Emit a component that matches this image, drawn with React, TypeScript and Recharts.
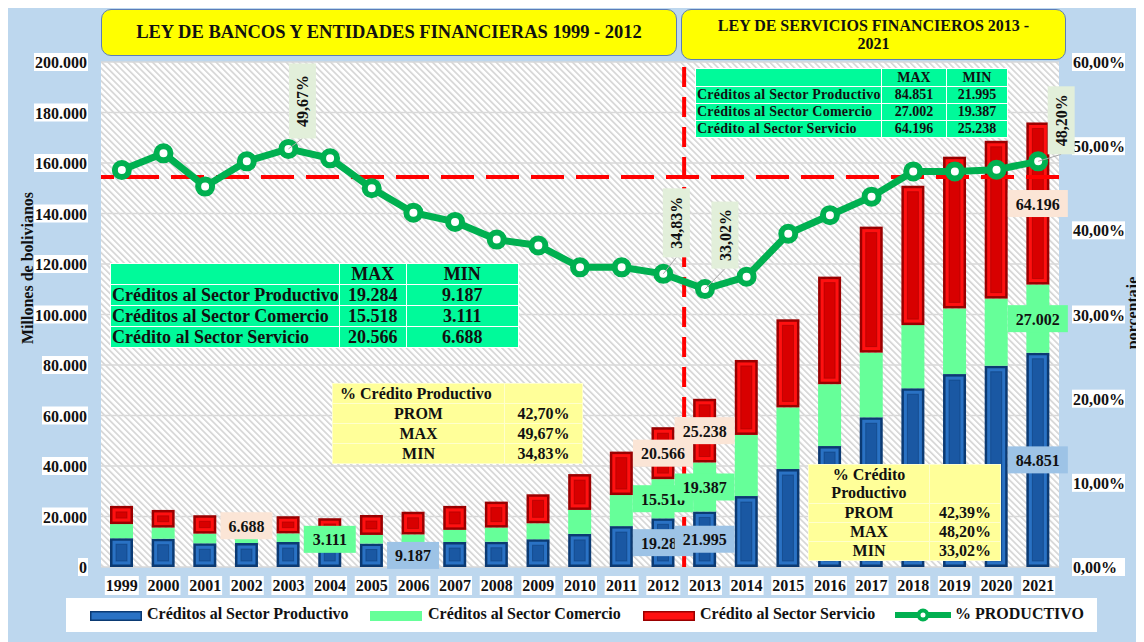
import React from 'react';
import {
  ComposedChart,
  Bar,
  Line,
  XAxis,
  YAxis,
  CartesianGrid,
  ReferenceLine,
  LabelList,
} from 'recharts';

// millones de bolivianos
const years = [
  '1999', '2000', '2001', '2002', '2003', '2004', '2005', '2006', '2007', '2008', '2009', '2010',
  '2011', '2012', '2013', '2014', '2015', '2016', '2017', '2018', '2019', '2020', '2021',
];
const productivo = [
  11400, 11200, 9400, 9500, 9900, 9400, 9300, 9187, 9900, 10000, 11000, 13100,
  16200, 19284, 21995, 28100, 38800, 47900, 59300, 70800, 76400, 79700, 84851,
];
const comercio = [
  5600, 4400, 3800, 3500, 3400, 3111, 3400, 3700, 4800, 5600, 6300, 9500,
  12300, 15518, 19387, 24200, 24400, 24500, 25600, 25000, 26000, 26600, 27002,
];
const servicio = [
  7200, 7000, 7300, 6688, 6800, 6800, 7900, 9000, 9500, 10300, 11500, 14200,
  17200, 20566, 25238, 29700, 34900, 42600, 49900, 55200, 60100, 62500, 64196,
];
// % productivo
const pctProductivo = [
  47.17, 49.15, 45.2, 48.2, 49.67, 48.55, 45.0, 42.1, 41.0, 38.9, 38.2, 35.6,
  35.6, 34.83, 33.02, 34.5, 39.6, 41.8, 44.0, 47.0, 47.0, 47.2, 48.2,
];
const pctReferencia = 46.33;

const leftTicks = [0, 20000, 40000, 60000, 80000, 100000, 120000, 140000, 160000, 180000, 200000];
const rightTicks = [0, 10, 20, 30, 40, 50, 60];

// years that carry a data label
const labeledProductivo = ['2006', '2012', '2013', '2021'];
const labeledComercio = ['2004', '2012', '2013', '2021'];
const labeledServicio = ['2002', '2012', '2013', '2021'];
const labeledPct = ['2003', '2012', '2013', '2021'];

// tables
const sectores = ['Créditos al Sector Productivo', 'Créditos al Sector Comercio', 'Crédito al Sector Servicio'];
const maxLey1 = ['19.284', '15.518', '20.566'];
const minLey1 = ['9.187', '3.111', '6.688'];
const maxLey2 = ['84.851', '27.002', '64.196'];
const minLey2 = ['21.995', '19.387', '25.238'];
const statNames = ['PROM', 'MAX', 'MIN'];
const statsLey1 = ['42,70%', '49,67%', '34,83%'];
const statsLey2 = ['42,39%', '48,20%', '33,02%'];

const data = years.map((year, i) => ({
  year,
  productivo: productivo[i],
  comercio: comercio[i],
  servicio: servicio[i],
  pct: pctProductivo[i],
}));

const FONT = "'Liberation Serif', 'DejaVu Serif', serif";
const BG = '#BDD7EE';
const GREEN_LINE = '#00B050';
const MINT = '#00FA9A';
const PALE_YELLOW = '#FFFF99';

const fmtMiles = (v: number) => Math.round(v).toString().replace(/\B(?=(\d{3})+(?!\d))/g, '.');
const fmtPct = (v: number) => `${v.toFixed(2).replace('.', ',')}%`;

// offsets of the rotated % labels from their point (dx, dy of box centre, box height)
const pctLabelPos: Record<string, [number, number, number]> = {
  '2003': [14, -48, 75],
  '2012': [13, -51, 69],
  '2013': [20, -54, 67],
  '2021': [23, -41, 68],
};

const BevelBar = (props: any) => {
  const { x, y, width, height, edge, main, inner } = props;
  if (!height || height <= 0) return null;
  const b = Math.min(2.5, height / 4);
  const b2 = Math.min(6, height / 3);
  return (
    <g>
      <rect x={x} y={y} width={width} height={height} fill={edge} />
      <rect x={x + b} y={y + b} width={width - 2 * b} height={height - 2 * b} fill={main} />
      {height > 14 && (
        <rect
          x={x + b2}
          y={y + b2}
          width={width - 2 * b2}
          height={height - 2 * b2}
          fill={inner}
          stroke={edge}
          strokeOpacity={0.5}
          strokeWidth={1}
        />
      )}
    </g>
  );
};

const makeBarLabel = (keys: string[], values: number[], bg: string) => (p: any) => {
  const idx = p.index;
  if (idx == null || !keys.includes(years[idx])) return null;
  const vb = p.viewBox && p.viewBox.width != null ? p.viewBox : p;
  const cx = vb.x + vb.width / 2;
  const cy = vb.y + vb.height / 2;
  const txt = fmtMiles(values[idx]);
  const w = txt.replace('.', '').length * 8 + 4 + 16;
  return (
    <g>
      <rect x={cx - w / 2} y={cy - 13.5} width={w} height={27} fill={bg} />
      <text x={cx} y={cy + 6} textAnchor="middle" fontFamily={FONT} fontWeight="bold" fontSize={16} fill="#111">
        {txt}
      </text>
    </g>
  );
};

const PctLabel = (p: any) => {
  const idx = p.index;
  if (idx == null || !labeledPct.includes(years[idx])) return null;
  const vb = p.viewBox && p.viewBox.x != null ? p.viewBox : p;
  const px = vb.x;
  const py = vb.y;
  const [dx, dy, h] = pctLabelPos[years[idx]];
  const cx = px + dx;
  const cy = py + dy;
  return (
    <g>
      <line x1={px} y1={py} x2={cx} y2={cy + h / 2} stroke="#A6A6A6" strokeWidth={1} />
      <rect x={cx - 13.5} y={cy - h / 2} width={27} height={h} fill="#E2EFDA" />
      <text
        x={cx}
        y={cy}
        transform={`rotate(-90 ${cx} ${cy})`}
        textAnchor="middle"
        dy={6}
        fontFamily={FONT}
        fontWeight="bold"
        fontSize={16}
        fill="#111"
      >
        {fmtPct(pctProductivo[idx])}
      </text>
    </g>
  );
};

const LeftTick = (p: any) => {
  const { x, y, payload } = p;
  const txt = fmtMiles(payload.value);
  const w = txt.replace('.', '').length * 8 + (txt.includes('.') ? 4 : 0) + 2;
  return (
    <g>
      <rect x={x - w} y={y - 9} width={w} height={18} fill="#fff" />
      <text x={x - 1} y={y + 6} textAnchor="end" fontFamily={FONT} fontWeight="bold" fontSize={16} fill="#111">
        {txt}
      </text>
    </g>
  );
};

const RightTick = (p: any) => {
  const { x, y, payload } = p;
  const txt = fmtPct(payload.value);
  return (
    <g>
      <rect x={x} y={y - 9} width={53} height={18} fill="#fff" />
      <text x={x + 1} y={y + 6} textAnchor="start" fontFamily={FONT} fontWeight="bold" fontSize={16} fill="#111">
        {txt}
      </text>
    </g>
  );
};

const YearTick = (p: any) => {
  const { x, y, payload } = p;
  return (
    <g>
      <rect x={x - 17} y={y + 9} width={34} height={19} fill="#fff" />
      <text x={x} y={y + 24} textAnchor="middle" fontFamily={FONT} fontWeight="bold" fontSize={16} fill="#111">
        {payload.value}
      </text>
    </g>
  );
};

const cell = (extra: React.CSSProperties = {}): React.CSSProperties => ({
  padding: 0,
  border: '1px solid #ffffff',
  whiteSpace: 'nowrap',
  overflow: 'hidden',
  ...extra,
});

function SectorTable({ left, top, cols, rows, fontSize, spacing, maxs, mins }: any) {
  return (
    <table
      style={{
        position: 'absolute',
        left,
        top,
        borderCollapse: 'collapse',
        tableLayout: 'fixed',
        background: MINT,
        fontFamily: FONT,
        fontWeight: 'bold',
        fontSize,
        color: '#111',
        lineHeight: 1,
      }}
    >
      <colgroup>
        {cols.map((c: number, i: number) => (
          <col key={i} style={{ width: c }} />
        ))}
      </colgroup>
      <tbody>
        <tr style={{ height: rows[0] }}>
          <td style={cell()} />
          <td style={cell({ textAlign: 'center' })}>MAX</td>
          <td style={cell({ textAlign: 'center' })}>MIN</td>
        </tr>
        {sectores.map((s, i) => (
          <tr key={s} style={{ height: rows[i + 1] }}>
            <td style={cell({ letterSpacing: spacing, paddingLeft: 1 })}>{s}</td>
            <td style={cell({ textAlign: 'center' })}>{maxs[i]}</td>
            <td style={cell({ textAlign: 'center' })}>{mins[i]}</td>
          </tr>
        ))}
      </tbody>
    </table>
  );
}

function StatTable({ left, top, cols, rows, header, headerAlign, values }: any) {
  return (
    <table
      style={{
        position: 'absolute',
        left,
        top,
        borderCollapse: 'collapse',
        tableLayout: 'fixed',
        background: PALE_YELLOW,
        fontFamily: FONT,
        fontWeight: 'bold',
        fontSize: 16,
        color: '#111',
        lineHeight: 1.1,
      }}
    >
      <colgroup>
        {cols.map((c: number, i: number) => (
          <col key={i} style={{ width: c }} />
        ))}
      </colgroup>
      <tbody>
        <tr style={{ height: rows[0] }}>
          <td
            style={cell({
              border: '1px solid #FFFFCC',
              textAlign: headerAlign,
              paddingLeft: headerAlign === 'left' ? 7 : 0,
              whiteSpace: 'normal',
            })}
          >
            {header}
          </td>
          <td style={cell({ border: '1px solid #FFFFCC' })} />
        </tr>
        {statNames.map((n, i) => (
          <tr key={n} style={{ height: rows[i + 1] }}>
            <td style={cell({ border: '1px solid #FFFFCC', textAlign: 'center' })}>{n}</td>
            <td style={cell({ border: '1px solid #FFFFCC', textAlign: 'center' })}>{values[i]}</td>
          </tr>
        ))}
      </tbody>
    </table>
  );
}

const titleBox: React.CSSProperties = {
  position: 'absolute',
  background: '#FFFF00',
  border: '1px solid #5B7DB8',
  borderRadius: 10,
  boxSizing: 'border-box',
  fontFamily: FONT,
  fontWeight: 'bold',
  color: '#111',
  textAlign: 'center',
  display: 'flex',
  alignItems: 'center',
  justifyContent: 'center',
};

const legendText: React.CSSProperties = {
  position: 'absolute',
  top: 7,
  fontFamily: FONT,
  fontWeight: 'bold',
  fontSize: 16,
  color: '#111',
  whiteSpace: 'nowrap',
};

export default function App() {
  return (
    <div style={{ position: 'relative', width: 1136, height: 634, background: BG, overflow: 'hidden' }}>
      <ComposedChart width={1136} height={634} data={data} margin={{ top: 54, right: 0, bottom: 0, left: 0 }}>
        <defs>
          <pattern id="hatch" patternUnits="userSpaceOnUse" width={4.5} height={4.5} patternTransform="rotate(-45)">
            <rect x={0} y={0} width={4.5} height={4.5} fill="#ffffff" />
            <rect x={0} y={0} width={1.6} height={4.5} fill="#D4D4D4" />
          </pattern>
        </defs>
        <CartesianGrid
          yAxisId="left"
          vertical={false}
          stroke="#D9D9D9"
          strokeWidth={1.5}
          fill="url(#hatch)"
          fillOpacity={1}
        />
        <XAxis
          dataKey="year"
          height={75}
          tickLine={false}
          axisLine={false}
          tickSize={0}
          tickMargin={0}
          interval={0}
          tick={<YearTick />}
        />
        <YAxis
          yAxisId="left"
          width={93}
          domain={[0, 200000]}
          ticks={leftTicks}
          tickLine={false}
          axisLine={false}
          tickSize={0}
          tickMargin={13}
          tick={<LeftTick />}
        />
        <YAxis
          yAxisId="right"
          orientation="right"
          width={85}
          domain={[0, 60]}
          ticks={rightTicks}
          tickLine={false}
          axisLine={false}
          tickSize={0}
          tickMargin={13}
          tick={<RightTick />}
        />
        <Bar
          yAxisId="left"
          dataKey="productivo"
          stackId="a"
          barSize={23}
          fill="#1F63B3"
          isAnimationActive={false}
          shape={(p: any) => <BevelBar {...p} edge="#0B3A73" main="#2A72C4" inner="#1A58A3" />}
        />
        <Bar
          yAxisId="left"
          dataKey="comercio"
          stackId="a"
          barSize={23}
          fill="#66FF99"
          isAnimationActive={false}
        />
        <Bar
          yAxisId="left"
          dataKey="servicio"
          stackId="a"
          barSize={23}
          fill="#FF0000"
          isAnimationActive={false}
          shape={(p: any) => <BevelBar {...p} edge="#9A0000" main="#FF1010" inner="#D80000" />}
        >
          <LabelList content={makeBarLabel(labeledServicio, servicio, '#FBE5D6')} />
        </Bar>
        <ReferenceLine
          yAxisId="right"
          y={pctReferencia}
          stroke="#FF0000"
          strokeWidth={4}
          strokeDasharray="33 12"
        />
        <ReferenceLine
          yAxisId="left"
          x="2012"
          position="end"
          stroke="#FF0000"
          strokeWidth={4}
          strokeDasharray="20 10"
        />
        <Line
          yAxisId="right"
          dataKey="pct"
          stroke={GREEN_LINE}
          strokeWidth={7}
          dot={{ r: 7, stroke: GREEN_LINE, strokeWidth: 6, fill: '#ffffff' }}
          isAnimationActive={false}
        >
          <LabelList content={PctLabel} />
        </Line>
      </ComposedChart>

      {/* bar labels for productivo and comercio, drawn over the chart via a second svg layer */}
      <LabelOverlay />

      <div style={{ ...titleBox, left: 93, top: 1, width: 576, height: 47, fontSize: 18.5 }}>
        LEY DE BANCOS Y ENTIDADES FINANCIERAS 1999 - 2012
      </div>
      <div style={{ ...titleBox, left: 673, top: 1, width: 385, height: 51, fontSize: 16, lineHeight: '18px', padding: '0 30px' }}>
        LEY DE SERVICIOS FINANCIEROS 2013 - 2021
      </div>

      <SectorTable left={102} top={255} cols={[225, 67, 112]} rows={[21, 21, 21, 21]} fontSize={18} spacing={0} maxs={maxLey1} mins={minLey1} />
      <StatTable left={324} top={375} cols={[172, 78]} rows={[20, 20, 20, 20]} header="% Crédito Productivo" headerAlign="left" values={statsLey1} />
      <SectorTable left={687} top={60} cols={[186, 65, 61]} rows={[18, 17, 17, 17]} fontSize={14} spacing={0.25} maxs={maxLey2} mins={minLey2} />
      <StatTable left={800} top={456} cols={[121, 71]} rows={[39, 19, 19, 19]} header={<>% Crédito<br />Productivo</>} headerAlign="center" values={statsLey2} />

      <div
        style={{
          position: 'absolute',
          left: 21 - 100,
          top: 260 - 10,
          width: 200,
          height: 20,
          transform: 'rotate(-90deg)',
          textAlign: 'center',
          fontFamily: FONT,
          fontWeight: 'bold',
          fontSize: 16,
          color: '#111',
        }}
      >
        Millones de bolivianos
      </div>
      <div
        style={{
          position: 'absolute',
          left: 1126 - 60,
          top: 305 - 10,
          width: 120,
          height: 20,
          transform: 'rotate(-90deg)',
          textAlign: 'center',
          fontFamily: FONT,
          fontWeight: 'bold',
          fontSize: 16,
          color: '#111',
        }}
      >
        porcentaje
      </div>

      <div style={{ position: 'absolute', left: 58, top: 590, width: 1031, height: 34, background: '#fff' }}>
        <svg style={{ position: 'absolute', left: 24, top: 13 }} width={52} height={10}>
          <rect x={0} y={0} width={52} height={10} fill="#0B3A73" />
          <rect x={1.5} y={1.5} width={49} height={7} fill="#2A72C4" />
        </svg>
        <span style={{ ...legendText, left: 81 }}>Créditos al Sector Productivo</span>
        <svg style={{ position: 'absolute', left: 304, top: 13 }} width={52} height={10}>
          <rect x={0} y={0} width={52} height={10} fill="#66FF99" />
        </svg>
        <span style={{ ...legendText, left: 362 }}>Créditos al Sector Comercio</span>
        <svg style={{ position: 'absolute', left: 577, top: 13 }} width={52} height={10}>
          <rect x={0} y={0} width={52} height={10} fill="#9A0000" />
          <rect x={1.5} y={1.5} width={49} height={7} fill="#FF1010" />
        </svg>
        <span style={{ ...legendText, left: 634 }}>Crédito al Sector Servicio</span>
        <svg style={{ position: 'absolute', left: 829, top: 7 }} width={56} height={20}>
          <line x1={0} y1={10} x2={56} y2={10} stroke={GREEN_LINE} strokeWidth={6} />
          <circle cx={28} cy={10} r={4.5} stroke={GREEN_LINE} strokeWidth={4} fill="#fff" />
        </svg>
        <span style={{ ...legendText, left: 889 }}>% PRODUCTIVO</span>
      </div>
    </div>
  );
}

// second chart, same geometry, transparent, holding only the labels of the lower stacks
function LabelOverlay() {
  return (
    <div style={{ position: 'absolute', left: 0, top: 0, pointerEvents: 'none' }}>
      <ComposedChart width={1136} height={634} data={data} margin={{ top: 54, right: 0, bottom: 0, left: 0 }}>
        <XAxis dataKey="year" height={75} tick={false} axisLine={false} tickLine={false} />
        <YAxis yAxisId="left" width={93} domain={[0, 200000]} ticks={leftTicks} tick={false} axisLine={false} tickLine={false} />
        <YAxis yAxisId="right" orientation="right" width={85} domain={[0, 60]} tick={false} axisLine={false} tickLine={false} />
        <Bar yAxisId="left" dataKey="productivo" stackId="a" barSize={23} fill="none" isAnimationActive={false}>
          <LabelList content={makeBarLabel(labeledProductivo, productivo, '#9DC3E6')} />
        </Bar>
        <Bar yAxisId="left" dataKey="comercio" stackId="a" barSize={23} fill="none" isAnimationActive={false}>
          <LabelList content={makeBarLabel(labeledComercio, comercio, '#66FF99')} />
        </Bar>
        <Bar yAxisId="left" dataKey="servicio" stackId="a" barSize={23} fill="none" isAnimationActive={false} />
      </ComposedChart>
    </div>
  );
}
